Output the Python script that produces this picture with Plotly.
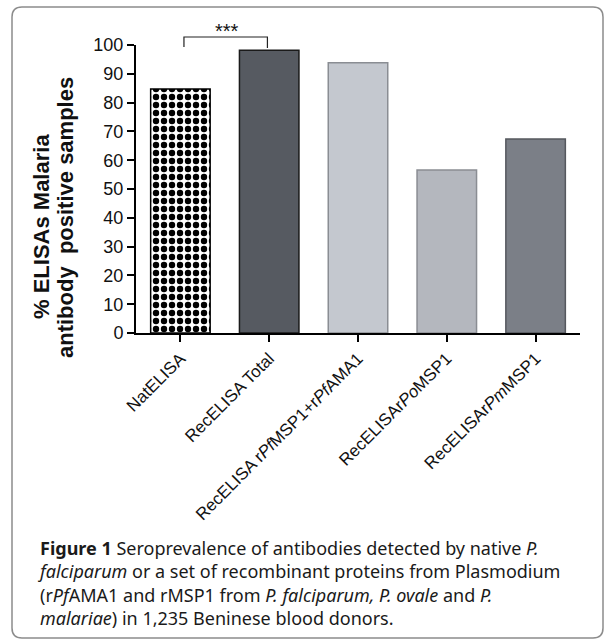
import plotly.graph_objects as go

# ---- data ----
categories = ["NatELISA", "RecELISA Total", "RecELISA rPfMSP1+rPfAMA1",
              "RecELISArPoMSP1", "RecELISArPmMSP1"]
tick_labels = ["NatELISA", "RecELISA Total", "RecELISA r<i>Pf</i>MSP1+r<i>Pf</i>AMA1",
               "RecELISAr<i>Po</i>MSP1", "RecELISAr<i>Pm</i>MSP1"]
values = [84.7, 98.2, 93.8, 56.6, 67.4]
y_ticks = [0, 10, 20, 30, 40, 50, 60, 70, 80, 90, 100]
significance = "***"
caption_lines = [
    "<b>Figure 1</b> Seroprevalence of antibodies detected by native <i>P.</i>",
    "<i>falciparum</i> or a set of recombinant proteins from Plasmodium",
    "(r<i>Pf</i>AMA1 and rMSP1 from <i>P. falciparum, P. ovale</i> and <i>P.</i>",
    "<i>malariae</i>) in 1,235 Beninese blood donors.",
]

# ---- styles ----
bar_colors = ["#000000", "#565a61", "#c4c8cf", "#b4b7be", "#7b7f87"]
line_colors = ["#000000", "#1a1a1a", "#8a8d93", "#8a8d93", "#55585e"]

W, H = 606, 643
L, R, T, B = 136, 26, 45, 310
pw, ph = W - L - R, H - T - B

def px_x(px):
    return (px - L) / pw

def px_y(py):
    return (H - B - py) / ph

fig = go.Figure()
fig.add_trace(go.Bar(
    x=categories, y=values, width=0.67,
    marker=dict(
        color=bar_colors,
        line=dict(color=line_colors, width=1.5),
        pattern=dict(shape=[".", "", "", "", ""], fgcolor="white", bgcolor="black",
                     size=8, solidity=0.5, fillmode="replace"),
    ),
    showlegend=False,
))

fig.update_layout(
    width=W, height=H,
    margin=dict(l=L, r=R, t=T, b=B),
    paper_bgcolor="white", plot_bgcolor="white",
    font=dict(family="Liberation Sans, Arial", color="#111"),
)
fig.update_xaxes(
    range=[-0.5, 4.5], tickmode="array", tickvals=categories, ticktext=tick_labels,
    tickangle=-45, tickfont=dict(size=17, color="#111"),
    showline=True, linecolor="black", linewidth=2,
    ticks="outside", ticklen=7, tickwidth=1.5, tickcolor="black",
    showgrid=False, zeroline=False, automargin=False,
)
fig.update_yaxes(
    range=[0, 100], tickmode="array", tickvals=y_ticks,
    tickfont=dict(size=18, color="#111"),
    showline=True, linecolor="black", linewidth=2,
    ticks="outside", ticklen=7, tickwidth=1.5, tickcolor="black",
    showgrid=False, zeroline=False, automargin=False,
)

# y-axis title (two lines)
fig.add_annotation(text="<b>% ELISAs Malaria</b>", xref="paper", yref="paper",
                   x=px_x(41), y=px_y(227), textangle=-90, showarrow=False,
                   font=dict(size=22, color="#111"), xanchor="center", yanchor="middle")
fig.add_annotation(text="<b>antibody  positive samples</b>", xref="paper", yref="paper",
                   x=px_x(65), y=px_y(218), textangle=-90, showarrow=False,
                   font=dict(size=22, color="#111"), xanchor="center", yanchor="middle")

# significance bracket
fig.add_shape(type="path", xref="x", yref="paper",
              path=f"M 0.04,{px_y(47)} L 0.04,{px_y(37)} L 0.98,{px_y(37)} L 0.98,{px_y(48)}",
              line=dict(color="#222", width=1.2))
fig.add_annotation(text=significance, xref="x", yref="paper", x=0.52, y=px_y(31),
                   yanchor="middle", showarrow=False, font=dict(size=20, color="#111"))

# caption
fig.add_annotation(text="<br>".join(caption_lines), xref="paper", yref="paper",
                   x=px_x(35), y=px_y(583), xanchor="left", yanchor="middle",
                   showarrow=False, align="left",
                   font=dict(family="Noto Sans", size=18, color="#1a1a1a"))

# rounded frame
x0, x1 = px_x(12), px_x(603)
y0, y1 = px_y(7), px_y(638)
rx, ry = 10 / pw, 10 / ph
frame = (f"M {x0+rx},{y0} L {x1-rx},{y0} Q {x1},{y0} {x1},{y0-ry} "
         f"L {x1},{y1+ry} Q {x1},{y1} {x1-rx},{y1} L {x0+rx},{y1} "
         f"Q {x0},{y1} {x0},{y1+ry} L {x0},{y0-ry} Q {x0},{y0} {x0+rx},{y0} Z")
fig.add_shape(type="path", xref="paper", yref="paper", path=frame,
              line=dict(color="#8c8c8c", width=1.5))

fig.write_html("out.html", config={"displayModeBar": False},
               post_script="document.body.style.margin='0px';")
